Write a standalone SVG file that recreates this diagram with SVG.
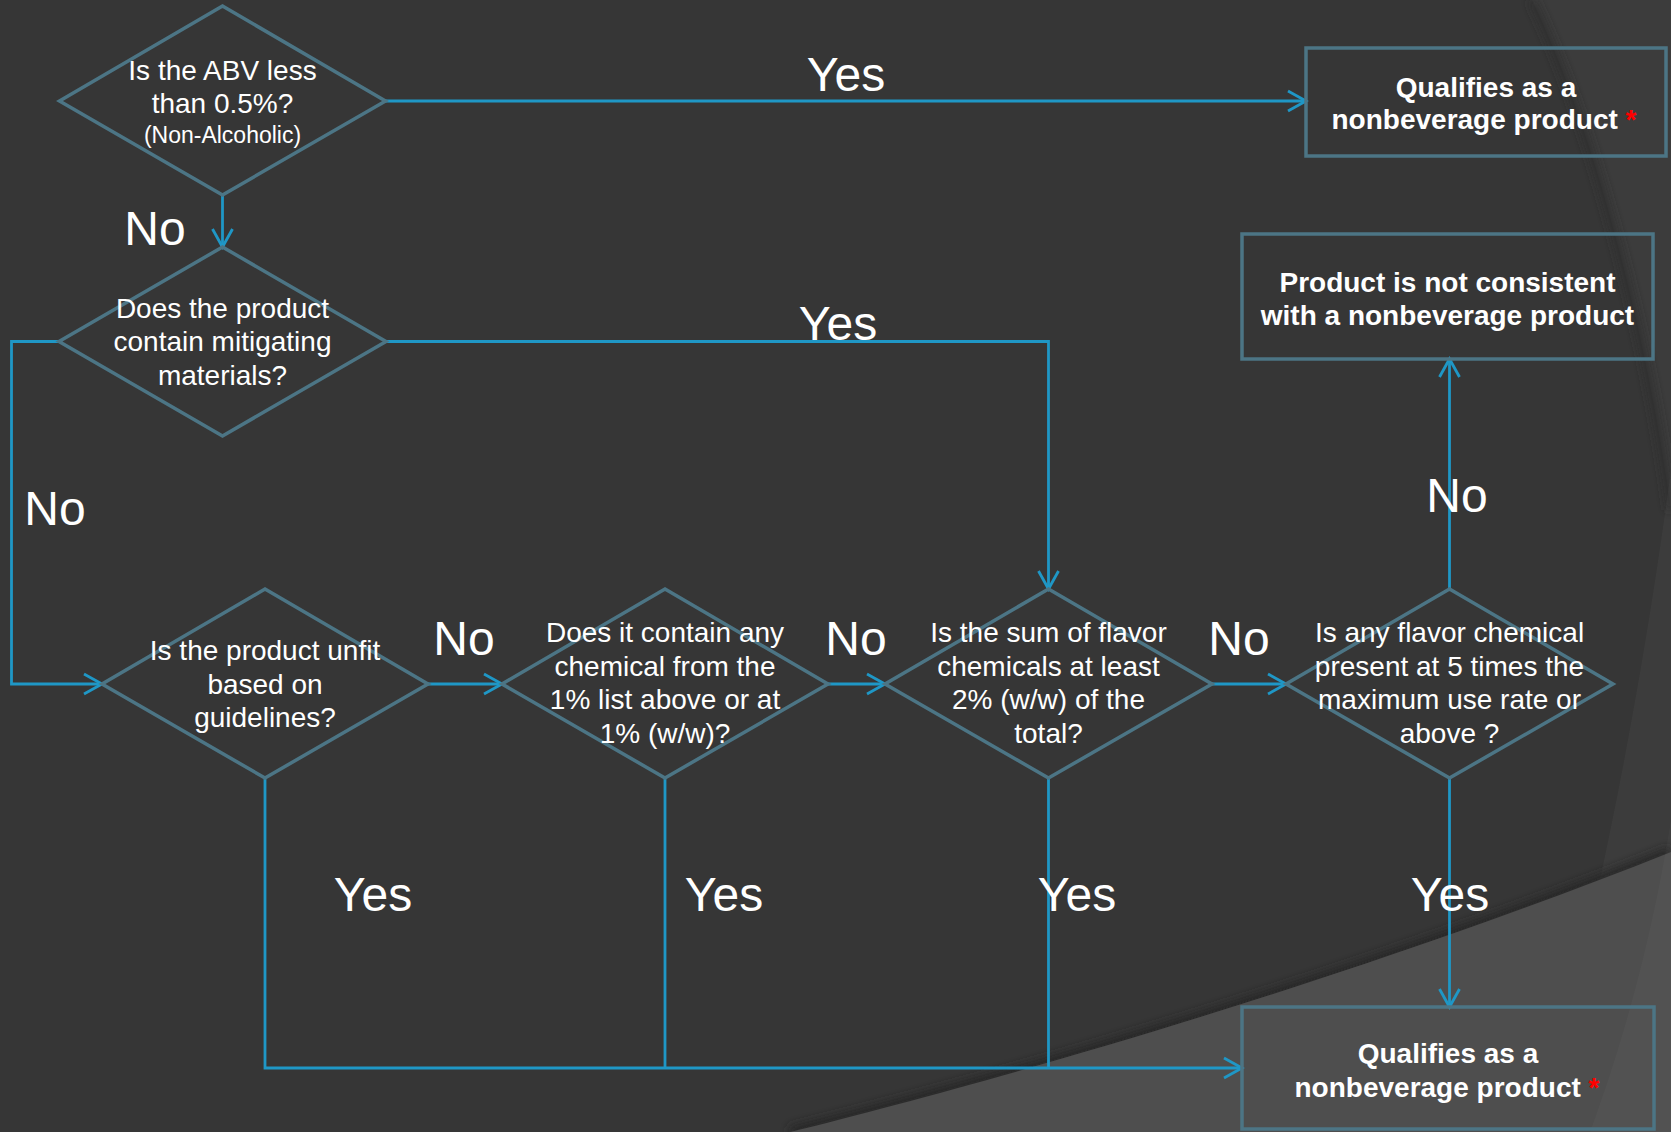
<svg xmlns="http://www.w3.org/2000/svg" width="1671" height="1132" viewBox="0 0 1671 1132">
<defs>
<style>
.bg{fill:#363636}
.node{fill:none;stroke:#4c7585;stroke-width:3.5}
.con{fill:none;stroke:#1f97c6;stroke-width:2.8}
.q{font-family:"Liberation Sans",Arial,sans-serif;font-size:28px;fill:#ffffff;text-anchor:middle}
.qs{font-size:23px}
.b{font-family:"Liberation Sans",Arial,sans-serif;font-size:28px;font-weight:bold;fill:#ffffff;text-anchor:middle}
.star{fill:#ff0000}
.lbl{font-family:"Liberation Sans",Arial,sans-serif;font-size:48px;fill:#ffffff;text-anchor:middle}
</style>
<marker id="arr" markerUnits="userSpaceOnUse" markerWidth="24" markerHeight="24" viewBox="-20 -12 24 24" refX="0" refY="0" orient="auto">
<path d="M-18,-10 L0,0 L-18,10" fill="none" stroke="#1f97c6" stroke-width="2.8"/>
</marker>
<filter id="blur" x="-10%" y="-10%" width="120%" height="120%"><feGaussianBlur stdDeviation="5"/></filter>
</defs>
<g id="background">
<rect class="bg" x="0" y="0" width="1671" height="1132"/>
<path d="M1532,0 C1590,120 1645,320 1671,510 L1671,0 Z" fill="#3c3c3c"/>
<path d="M1532,0 C1590,120 1645,320 1671,510" fill="none" stroke="#2e2e2e" stroke-width="6" filter="url(#blur)"/>
<path d="M1671,470 C1640,700 1600,900 1540,1132 L1671,1132 Z" fill="#ffffff" fill-opacity="0.03"/>
<path d="M790,1132 C1000,1080 1350,980 1671,852" fill="none" stroke="#262626" stroke-width="10" filter="url(#blur)"/>
<path d="M790,1132 C1000,1080 1350,980 1671,852 L1671,1132 Z" fill="#4e4e4e"/>
<path d="M1671,820 C1650,950 1620,1050 1590,1132 L1671,1132 Z" fill="#ffffff" fill-opacity="0.025"/>
</g>
<g id="connectors">
<path class="con" d="M385,101 L1306,101" marker-end="url(#arr)"/>
<path class="con" d="M222.5,195 L222.5,247" marker-end="url(#arr)"/>
<path class="con" d="M386,341.5 L1048.5,341.5 L1048.5,589" marker-end="url(#arr)"/>
<path class="con" d="M59,341.5 L11.5,341.5 L11.5,684 L102,684" marker-end="url(#arr)"/>
<path class="con" d="M428,684 L502,684" marker-end="url(#arr)"/>
<path class="con" d="M828,684 L885,684" marker-end="url(#arr)"/>
<path class="con" d="M1212,684 L1286,684" marker-end="url(#arr)"/>
<path class="con" d="M1449.5,589 L1449.5,359" marker-end="url(#arr)"/>
<path class="con" d="M1449.5,778 L1449.5,1007" marker-end="url(#arr)"/>
<path class="con" d="M265,778 L265,1068 L1242,1068" marker-end="url(#arr)"/>
<path class="con" d="M665,778 L665,1068"/>
<path class="con" d="M1048.5,778 L1048.5,1068"/>
</g>
<g id="labels">
<text class="lbl" x="846" y="91">Yes</text>
<text class="lbl" x="155" y="245">No</text>
<text class="lbl" x="838" y="340">Yes</text>
<text class="lbl" x="55" y="525">No</text>
<text class="lbl" x="464" y="655">No</text>
<text class="lbl" x="856" y="655">No</text>
<text class="lbl" x="1239" y="655">No</text>
<text class="lbl" x="1457" y="512">No</text>
<text class="lbl" x="373" y="911">Yes</text>
<text class="lbl" x="724" y="911">Yes</text>
<text class="lbl" x="1077" y="911">Yes</text>
<text class="lbl" x="1450" y="911">Yes</text>
</g>
<g id="d1">
<polygon class="node" points="222.5,6 385.5,101 222.5,195 59.5,101"/>
<text class="q" x="222.5" y="80">Is the ABV less</text>
<text class="q" x="222.5" y="113">than 0.5%?</text>
<text class="q qs" x="222.5" y="143">(Non-Alcoholic)</text>
</g>
<g id="d2">
<polygon class="node" points="222.5,247 386,341.5 222.5,436 59,341.5"/>
<text class="q" x="222.5" y="318">Does the product</text>
<text class="q" x="222.5" y="351">contain mitigating</text>
<text class="q" x="222.5" y="384.5">materials?</text>
</g>
<g id="d3">
<polygon class="node" points="265,589 428,684 265,778 102,684"/>
<text class="q" x="265" y="660">Is the product unfit</text>
<text class="q" x="265" y="693.5">based on</text>
<text class="q" x="265" y="727">guidelines?</text>
</g>
<g id="d4">
<polygon class="node" points="665,589 828,684 665,778 502,684"/>
<text class="q" x="665" y="642">Does it contain any</text>
<text class="q" x="665" y="675.5">chemical from the</text>
<text class="q" x="665" y="709">1% list above or at</text>
<text class="q" x="665" y="742.5">1% (w/w)?</text>
</g>
<g id="d5">
<polygon class="node" points="1048.5,589 1212,684 1048.5,778 885,684"/>
<text class="q" x="1048.5" y="642">Is the sum of flavor</text>
<text class="q" x="1048.5" y="675.5">chemicals at least</text>
<text class="q" x="1048.5" y="709">2% (w/w) of the</text>
<text class="q" x="1048.5" y="742.5">total?</text>
</g>
<g id="d6">
<polygon class="node" points="1449.5,589 1613,684 1449.5,778 1286,684"/>
<text class="q" x="1449.5" y="642">Is any flavor chemical</text>
<text class="q" x="1449.5" y="675.5">present at 5 times the</text>
<text class="q" x="1449.5" y="709">maximum use rate or</text>
<text class="q" x="1449.5" y="742.5">above ?</text>
</g>
<g id="box1">
<rect class="node" x="1306" y="48" width="360" height="108"/>
<text class="b" x="1486" y="97">Qualifies as a</text>
<text class="b" x="1484" y="129">nonbeverage product<tspan class="star"> *</tspan></text>
</g>
<g id="box2">
<rect class="node" x="1242" y="234" width="411" height="125"/>
<text class="b" x="1447.5" y="291.5">Product is not consistent</text>
<text class="b" x="1447.5" y="325">with a nonbeverage product</text>
</g>
<g id="box3">
<rect class="node" x="1242" y="1007" width="412" height="122"/>
<text class="b" x="1448" y="1063">Qualifies as a</text>
<text class="b" x="1447" y="1097">nonbeverage product<tspan class="star"> *</tspan></text>
</g>
</svg>
